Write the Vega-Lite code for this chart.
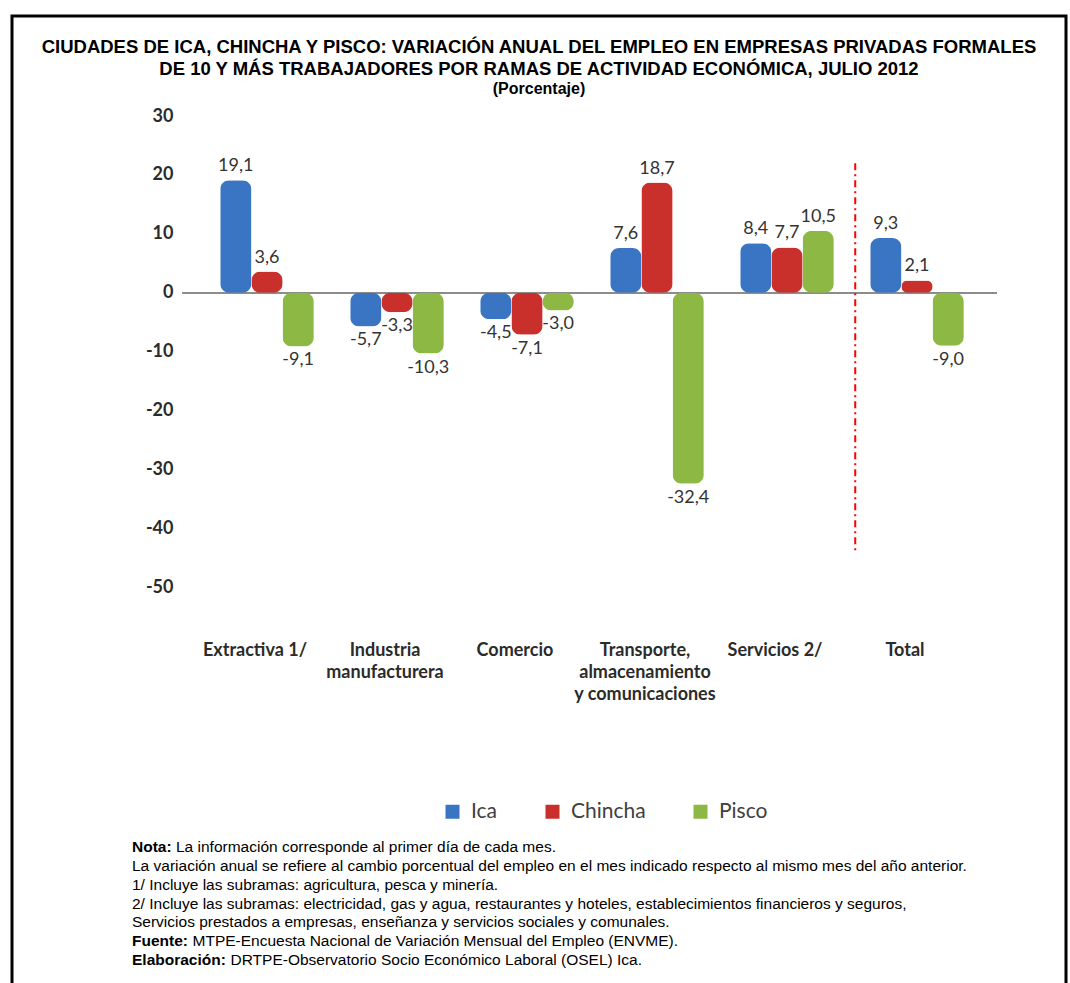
{
  "$schema": "https://vega.github.io/schema/vega-lite/v6.json",
  "width": 1054,
  "height": 975,
  "autosize": "none",
  "padding": {"left": 12, "top": 16, "right": 4, "bottom": 0},
  "background": "white",
  "config": {
    "view": {"stroke": "black", "strokeWidth": 3},
    "locale": {"number": {"decimal": ",", "thousands": ".", "grouping": [3], "currency": ["", ""], "minus": "-"}},
    "title": {"font": "Liberation Sans", "fontSize": 18.5, "fontWeight": "bold", "color": "black", "subtitleFont": "Liberation Sans", "subtitleFontSize": 16, "subtitleFontWeight": "bold", "subtitleColor": "black", "lineHeight": 22, "subtitleLineHeight": 20, "subtitlePadding": 0}
  },
  "title": {
    "text": ["CIUDADES DE ICA, CHINCHA Y PISCO: VARIACIÓN ANUAL DEL EMPLEO EN EMPRESAS PRIVADAS FORMALES", "DE 10 Y MÁS TRABAJADORES POR RAMAS DE ACTIVIDAD ECONÓMICA, JULIO 2012"],
    "subtitle": "(Porcentaje)",
    "anchor": "middle",
    "offset": -81
  },
  "layer": [
    {
      "data": {
        "values": [
          {"rama": "Extractiva 1/", "ciudad": "Ica", "valor": 19.1},
          {"rama": "Extractiva 1/", "ciudad": "Chincha", "valor": 3.6},
          {"rama": "Extractiva 1/", "ciudad": "Pisco", "valor": -9.1},
          {"rama": "Industria manufacturera", "ciudad": "Ica", "valor": -5.7},
          {"rama": "Industria manufacturera", "ciudad": "Chincha", "valor": -3.3},
          {"rama": "Industria manufacturera", "ciudad": "Pisco", "valor": -10.3},
          {"rama": "Comercio", "ciudad": "Ica", "valor": -4.5},
          {"rama": "Comercio", "ciudad": "Chincha", "valor": -7.1},
          {"rama": "Comercio", "ciudad": "Pisco", "valor": -3.0},
          {"rama": "Transporte, almacenamiento y comunicaciones", "ciudad": "Ica", "valor": 7.6},
          {"rama": "Transporte, almacenamiento y comunicaciones", "ciudad": "Chincha", "valor": 18.7},
          {"rama": "Transporte, almacenamiento y comunicaciones", "ciudad": "Pisco", "valor": -32.4},
          {"rama": "Servicios 2/", "ciudad": "Ica", "valor": 8.4},
          {"rama": "Servicios 2/", "ciudad": "Chincha", "valor": 7.7},
          {"rama": "Servicios 2/", "ciudad": "Pisco", "valor": 10.5},
          {"rama": "Total", "ciudad": "Ica", "valor": 9.3},
          {"rama": "Total", "ciudad": "Chincha", "valor": 2.1},
          {"rama": "Total", "ciudad": "Pisco", "valor": -9.0}
        ]
      },
      "encoding": {
        "x": {
          "field": "rama", "type": "nominal", "sort": null,
          "scale": {
            "domain": ["Extractiva 1/", "Industria manufacturera", "Comercio", "Transporte, almacenamiento y comunicaciones", "Servicios 2/", "Total"],
            "range": [190, 970], "paddingInner": 0.28, "paddingOuter": 0.14
          },
          "axis": {
            "title": null, "orient": "bottom", "offset": -354, "domain": false, "ticks": false,
            "labelAngle": 0, "labelFont": "Lato", "labelFontSize": 18, "labelFontWeight": "bold", "labelColor": "#2b2b2b",
            "labelLineHeight": 22, "labelBaseline": "top", "labelPadding": 4, "labelOffset": -12,
            "labelExpr": "datum.value == 'Industria manufacturera' ? ['Industria', 'manufacturera'] : datum.value == 'Transporte, almacenamiento y comunicaciones' ? ['Transporte,', 'almacenamiento', 'y comunicaciones'] : datum.value"
          }
        },
        "y": {
          "field": "valor", "type": "quantitative",
          "scale": {"domain": [-50, 30], "range": [571.5, 100], "nice": false, "zero": false},
          "axis": {
            "title": null, "offset": -165, "domain": false, "ticks": false, "grid": false,
            "values": [-50, -40, -30, -20, -10, 0, 10, 20, 30],
            "labelFont": "Lato", "labelFontSize": 18, "labelFontWeight": "bold", "labelColor": "#2b2b2b", "labelPadding": 4,
            "format": "d"
          }
        },
        "xOffset": {"field": "ciudad", "sort": ["Ica", "Chincha", "Pisco"], "scale": {"paddingInner": 0}}
      },
      "layer": [
        {
          "mark": {"type": "rule", "color": "#8c8c8c", "strokeWidth": 1},
          "encoding": {
            "y": {"datum": 0},
            "x": {"datum": "Extractiva 1/", "bandPosition": -0.4},
            "x2": {"datum": "Total", "bandPosition": 1.35},
            "xOffset": null
          }
        },
        {
          "mark": {"type": "bar", "cornerRadius": 9},
          "encoding": {
            "color": {
              "field": "ciudad", "type": "nominal",
              "scale": {"domain": ["Ica", "Chincha", "Pisco"], "range": ["#3a75c4", "#c9302c", "#8db843"]},
              "legend": {
                "title": null, "orient": "none", "direction": "horizontal", "legendX": 430, "legendY": 785,
                "symbolType": "square", "symbolSize": 196, "symbolStrokeWidth": 0,
                "labelFont": "Lato", "labelFontSize": 21, "labelColor": "#404040", "columnPadding": 44, "labelOffset": 8
              }
            }
          }
        },
        {
          "transform": [{"filter": "datum.valor >= 0"}],
          "mark": {"type": "text", "baseline": "bottom", "dy": -5, "font": "Lato", "fontSize": 18, "color": "#333333"},
          "encoding": {"text": {"field": "valor", "type": "quantitative", "format": ".1f"}}
        },
        {
          "transform": [{"filter": "datum.valor < 0"}],
          "mark": {"type": "text", "baseline": "top", "dy": 5, "font": "Lato", "fontSize": 18, "color": "#333333"},
          "encoding": {"text": {"field": "valor", "type": "quantitative", "format": ".1f"}}
        },
        {
          "data": {"values": [{"rama": "Total", "desde": 22, "hasta": -44}]},
          "mark": {"type": "rule", "color": "#ff0000", "strokeWidth": 2, "strokeDash": [7, 4, 2, 4]},
          "encoding": {
            "x": {"field": "rama", "type": "nominal", "bandPosition": -0.16},
            "y": {"field": "desde", "type": "quantitative"},
            "y2": {"field": "hasta"},
            "xOffset": null
          }
        }
      ]
    },
    {
      "data": {
        "values": [
          {"linea": 1, "prefijo": "Nota:", "texto": "La información corresponde al primer día de cada mes."},
          {"linea": 2, "prefijo": "", "texto": "La variación anual se refiere al cambio porcentual del empleo en el mes indicado respecto al mismo mes del año anterior."},
          {"linea": 3, "prefijo": "", "texto": "1/ Incluye las subramas: agricultura, pesca y minería."},
          {"linea": 4, "prefijo": "", "texto": "2/ Incluye las subramas: electricidad, gas y agua, restaurantes y hoteles, establecimientos financieros y seguros,"},
          {"linea": 5, "prefijo": "", "texto": "Servicios prestados a empresas,  enseñanza y servicios sociales y comunales."},
          {"linea": 6, "prefijo": "Fuente:", "texto": "MTPE-Encuesta Nacional de Variación Mensual del Empleo (ENVME)."},
          {"linea": 7, "prefijo": "Elaboración:", "texto": "DRTPE-Observatorio Socio Económico Laboral (OSEL) Ica."}
        ]
      },
      "encoding": {
        "y": {"field": "linea", "type": "ordinal", "scale": {"type": "point", "range": [831, 944], "padding": 0}, "axis": null},
        "x": {"value": 120}
      },
      "layer": [
        {
          "mark": {"type": "text", "align": "left", "baseline": "middle", "font": "Liberation Sans", "fontSize": 15.5, "fontWeight": "bold", "color": "black"},
          "encoding": {"text": {"field": "prefijo"}}
        },
        {
          "transform": [{"filter": "datum.prefijo == ''"}],
          "mark": {"type": "text", "align": "left", "baseline": "middle", "font": "Liberation Sans", "fontSize": 15.5, "color": "black"},
          "encoding": {"text": {"field": "texto"}}
        },
        {
          "transform": [{"filter": "datum.prefijo == 'Nota:'"}],
          "mark": {"type": "text", "align": "left", "baseline": "middle", "dx": 44, "font": "Liberation Sans", "fontSize": 15.5, "color": "black"},
          "encoding": {"text": {"field": "texto"}}
        },
        {
          "transform": [{"filter": "datum.prefijo == 'Fuente:'"}],
          "mark": {"type": "text", "align": "left", "baseline": "middle", "dx": 60.5, "font": "Liberation Sans", "fontSize": 15.5, "color": "black"},
          "encoding": {"text": {"field": "texto"}}
        },
        {
          "transform": [{"filter": "datum.prefijo == 'Elaboración:'"}],
          "mark": {"type": "text", "align": "left", "baseline": "middle", "dx": 98.5, "font": "Liberation Sans", "fontSize": 15.5, "color": "black"},
          "encoding": {"text": {"field": "texto"}}
        }
      ]
    }
  ],
  "resolve": {"scale": {"y": "independent", "x": "independent"}}
}
